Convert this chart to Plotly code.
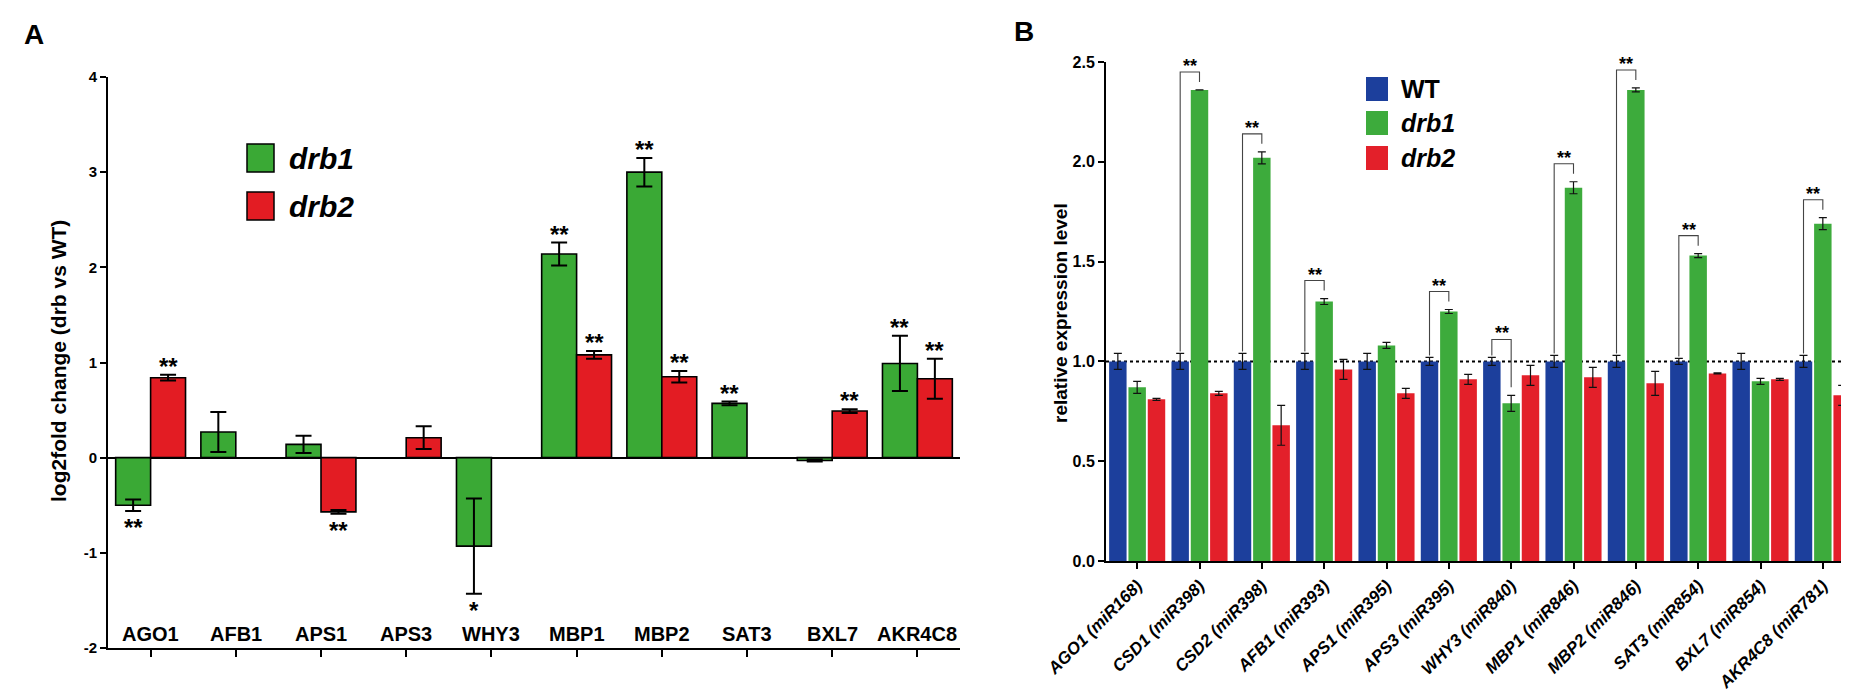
import plotly.graph_objects as go

W, H = 1849, 691
FONT = "Liberation Sans, Arial, Helvetica, sans-serif"

# ---------------- Panel A data ----------------
genes_a = ["AGO1", "AFB1", "APS1", "APS3", "WHY3", "MBP1", "MBP2", "SAT3", "BXL7", "AKR4C8"]
drb1_a = [-0.50, 0.27, 0.14, None, -0.93, 2.14, 3.00, 0.57, -0.03, 0.99]
drb1_a_err = [0.06, 0.21, 0.09, 0.0, 0.50, 0.12, 0.15, 0.02, 0.01, 0.29]
drb2_a = [0.84, None, -0.57, 0.21, None, 1.08, 0.85, None, 0.49, 0.83]
drb2_a_err = [0.03, 0.0, 0.02, 0.12, 0.0, 0.04, 0.06, 0.0, 0.02, 0.21]
sig_drb1_a = ["**", "", "", "", "*", "**", "**", "**", "", "**"]
sig_drb2_a = ["**", "", "**", "", "", "**", "**", "", "**", "**"]
series_a = ["drb1", "drb2"]
yticks_a = [-2, -1, 0, 1, 2, 3, 4]

# ---------------- Panel B data ----------------
genes_b = ["AGO1 (miR168)", "CSD1 (miR398)", "CSD2 (miR398)", "AFB1 (miR393)",
           "APS1 (miR395)", "APS3 (miR395)", "WHY3 (miR840)", "MBP1 (miR846)",
           "MBP2 (miR846)", "SAT3 (miR854)", "BXL7 (miR854)", "AKR4C8 (miR781)"]
wt_b = [1.0, 1.0, 1.0, 1.0, 1.0, 1.0, 1.0, 1.0, 1.0, 1.0, 1.0, 1.0]
wt_b_err = [0.04, 0.04, 0.04, 0.04, 0.04, 0.02, 0.02, 0.03, 0.03, 0.015, 0.04, 0.03]
drb1_b = [0.87, 2.36, 2.02, 1.30, 1.08, 1.25, 0.79, 1.87, 2.36, 1.53, 0.90, 1.69]
drb1_b_err = [0.03, 0.0, 0.03, 0.015, 0.015, 0.01, 0.04, 0.03, 0.01, 0.01, 0.015, 0.03]
drb2_b = [0.81, 0.84, 0.68, 0.96, 0.84, 0.91, 0.93, 0.92, 0.89, 0.94, 0.91, 0.83]
drb2_b_err = [0.005, 0.01, 0.10, 0.05, 0.025, 0.025, 0.05, 0.05, 0.06, 0.003, 0.005, 0.05]
sig_b = [False, True, True, True, False, True, True, True, True, True, False, True]
series_b = ["WT", "drb1", "drb2"]
yticks_b = [0.0, 0.5, 1.0, 1.5, 2.0, 2.5]

GREEN_A, RED_A = "#3aa935", "#e31c23"
BLUE_B, GREEN_B, RED_B = "#1c3f9c", "#3dab3c", "#e3202a"


def px_x(x):
    return x / W


def px_y(y):
    return 1 - y / H


fig = go.Figure()

# ---------- Panel A bars ----------
BW_A = 0.41
for name, vals, errs, col, off in [
    (series_a[0], drb1_a, drb1_a_err, GREEN_A, -BW_A),
    (series_a[1], drb2_a, drb2_a_err, RED_A, 0.0),
]:
    fig.add_trace(go.Bar(
        x=list(range(len(genes_a))), y=vals, name=name,
        width=BW_A, offset=off,
        marker=dict(color=col, line=dict(color="black", width=1.6)),
        error_y=dict(type="data", array=errs, color="black", thickness=2, width=8),
        xaxis="x", yaxis="y", showlegend=False,
    ))

# ---------- Panel B bars ----------
BW_B = 0.28
PITCH_B = 0.31
for name, vals, errs, col, k in [
    (series_b[0], wt_b, wt_b_err, BLUE_B, -1),
    (series_b[1], drb1_b, drb1_b_err, GREEN_B, 0),
    (series_b[2], drb2_b, drb2_b_err, RED_B, 1),
]:
    fig.add_trace(go.Bar(
        x=list(range(len(genes_b))), y=vals, name=name,
        width=BW_B, offset=k * PITCH_B - BW_B / 2,
        marker=dict(color=col, line=dict(width=0)),
        error_y=dict(type="data", array=errs, color="#111111", thickness=1.2, width=4),
        xaxis="x2", yaxis="y2", showlegend=False,
    ))

# ---------- Panel B significance brackets ----------
bx, by = [], []
annotations = []
for i, s in enumerate(sig_b):
    if not s:
        continue
    wt_top = wt_b[i] + wt_b_err[i]
    g_top = drb1_b[i] + drb1_b_err[i]
    top = max(wt_top, g_top) + 0.09
    xl = i - PITCH_B
    xr = i
    bx += [xl, xl, xr, xr, None]
    by += [wt_top + 0.01, top, top, g_top + 0.04, None]
    annotations.append(dict(
        x=(xl + xr) / 2, y=top, xref="x2", yref="y2", text="**",
        showarrow=False, xanchor="center", yanchor="bottom", yshift=-6,
        font=dict(family=FONT, size=18, color="black", weight="bold"),
    ))
fig.add_trace(go.Scatter(
    x=bx, y=by, mode="lines", line=dict(color="#444444", width=1.1),
    xaxis="x2", yaxis="y2", showlegend=False, hoverinfo="skip",
))

# ---------- Panel A significance stars ----------
for vals, errs, sigs, off in [(drb1_a, drb1_a_err, sig_drb1_a, -BW_A / 2),
                              (drb2_a, drb2_a_err, sig_drb2_a, BW_A / 2)]:
    for i, s in enumerate(sigs):
        if not s or vals[i] is None:
            continue
        if vals[i] >= 0:
            annotations.append(dict(
                x=i + off, y=vals[i] + errs[i], xref="x", yref="y", text=s,
                showarrow=False, xanchor="center", yanchor="bottom", yshift=-7,
                font=dict(family=FONT, size=24, color="black", weight="bold"),
            ))
        else:
            annotations.append(dict(
                x=i + off, y=vals[i] - errs[i], xref="x", yref="y", text=s,
                showarrow=False, xanchor="center", yanchor="top", yshift=-1,
                font=dict(family=FONT, size=24, color="black", weight="bold"),
            ))

# ---------- Panel A category labels (inside, above the axis) ----------
for i, g in enumerate(genes_a):
    annotations.append(dict(
        x=i, y=-2, xref="x", yref="y", text=g, showarrow=False,
        xanchor="center", yanchor="bottom", yshift=1,
        font=dict(family=FONT, size=20, color="black", weight="bold"),
    ))

# ---------- Axis titles / panel letters ----------
annotations += [
    dict(x=px_x(50), y=px_y(353), xref="paper", yref="paper",
         text="log2fold change (drb vs WT)", textangle=-90, showarrow=False,
         xanchor="center", yanchor="middle",
         font=dict(family=FONT, size=21, color="black", weight="bold")),
    dict(x=px_x(1052), y=px_y(305), xref="paper", yref="paper",
         text="relative expression level", textangle=-90, showarrow=False,
         xanchor="center", yanchor="middle",
         font=dict(family=FONT, size=19, color="black", weight="bold")),
    dict(x=px_x(26), y=px_y(26), xref="paper", yref="paper", text="A",
         showarrow=False, xanchor="center", yanchor="middle",
         font=dict(family=FONT, size=28, color="black", weight="bold")),
    dict(x=px_x(1016), y=px_y(24), xref="paper", yref="paper", text="B",
         showarrow=False, xanchor="center", yanchor="middle",
         font=dict(family=FONT, size=28, color="black", weight="bold")),
]

# ---------- Manual legends ----------
shapes = []
# Panel A legend
for name, col, cy in [(series_a[0], GREEN_A, 150), (series_a[1], RED_A, 198)]:
    shapes.append(dict(type="rect", xref="paper", yref="paper",
                       x0=px_x(239), x1=px_x(266), y0=px_y(cy - 14), y1=px_y(cy + 14),
                       fillcolor=col, line=dict(color="black", width=1.5)))
    annotations.append(dict(x=px_x(279), y=px_y(cy), xref="paper", yref="paper",
                            text=name, showarrow=False, xanchor="left", yanchor="middle",
                            font=dict(family=FONT, size=30, color="black",
                                      weight="bold", style="italic")))
# Panel B legend
for name, col, cy in [(series_b[0], BLUE_B, 81), (series_b[1], GREEN_B, 115), (series_b[2], RED_B, 150)]:
    shapes.append(dict(type="rect", xref="paper", yref="paper",
                       x0=px_x(1358), x1=px_x(1380), y0=px_y(cy - 12), y1=px_y(cy + 12),
                       fillcolor=col, line=dict(width=0)))
    annotations.append(dict(x=px_x(1391), y=px_y(cy), xref="paper", yref="paper",
                            text=name, showarrow=False, xanchor="left", yanchor="middle",
                            font=dict(family=FONT, size=25, color="black", weight="bold",
                                      style="normal" if name == "WT" else "italic")))

# dotted reference line at 1.0 in panel B
shapes.append(dict(type="line", xref="x2 domain", yref="y2", x0=0, x1=1, y0=1, y1=1,
                   line=dict(color="black", width=2, dash="dot"), layer="below"))

fig.update_layout(
    width=W, height=H, autosize=False,
    margin=dict(l=0, r=0, t=0, b=0, pad=0, autoexpand=False),
    paper_bgcolor="white", plot_bgcolor="white",
    barmode="overlay",
    font=dict(family=FONT, color="black"),
    annotations=annotations, shapes=shapes,
    xaxis=dict(
        domain=[px_x(100), px_x(952)], range=[-0.5, len(genes_a) - 0.5],
        tickvals=list(range(len(genes_a))), showticklabels=False,
        ticks="outside", ticklen=7, tickwidth=2, tickcolor="black",
        showline=True, linecolor="black", linewidth=2, showgrid=False, zeroline=False,
        anchor="y", automargin=False,
    ),
    yaxis=dict(
        domain=[px_y(640), px_y(69)], range=[-2, 4],
        tickvals=yticks_a, ticktext=[str(v) for v in yticks_a],
        ticks="outside", ticklen=6, tickwidth=2, tickcolor="black",
        tickfont=dict(family=FONT, size=15, weight="bold", color="black"),
        showline=True, linecolor="black", linewidth=2, showgrid=False,
        zeroline=True, zerolinecolor="black", zerolinewidth=2,
        anchor="x", automargin=False,
    ),
    xaxis2=dict(
        domain=[px_x(1098), px_x(1846)], range=[-0.5, len(genes_b) - 0.5],
        tickvals=list(range(len(genes_b))), ticktext=genes_b, tickangle=-45,
        tickfont=dict(family=FONT, size=17, weight="bold", style="italic", color="black"),
        ticks="outside", ticklen=6, tickwidth=2, tickcolor="black",
        showline=True, linecolor="black", linewidth=2, showgrid=False, zeroline=False,
        anchor="y2", automargin=False,
    ),
    yaxis2=dict(
        domain=[px_y(553), px_y(54)], range=[0, 2.5],
        tickvals=yticks_b, ticktext=[f"{v:.1f}" for v in yticks_b],
        ticks="outside", ticklen=6, tickwidth=2, tickcolor="black",
        tickfont=dict(family=FONT, size=16, weight="bold", color="black"),
        showline=True, linecolor="black", linewidth=2, showgrid=False, zeroline=False,
        anchor="x2", automargin=False,
    ),
)

fig.write_html("out.html")
